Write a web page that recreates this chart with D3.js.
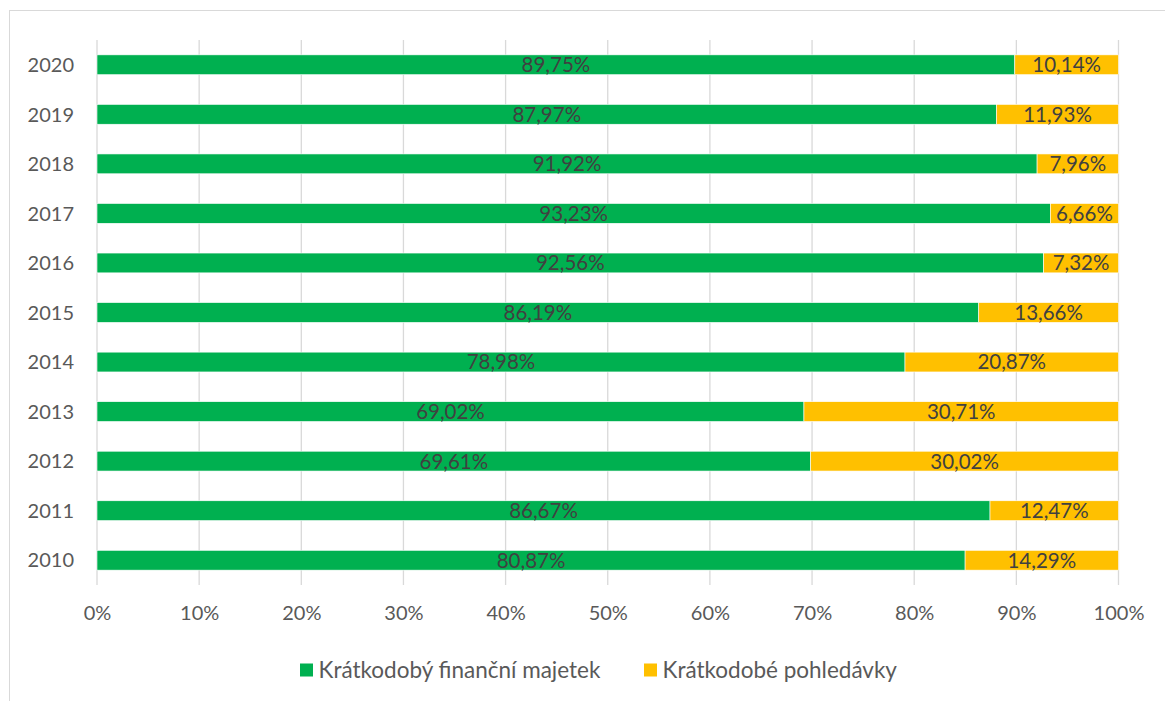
<!DOCTYPE html>
<html lang="cs">
<head>
  <meta charset="utf-8"/>
  <title>Krátkodobý finanční majetek a pohledávky</title>
  <script src="https://d3js.org/d3.v7.min.js"></script>
  <style>
    html, body { margin: 0; padding: 0; background: #fff; }
    svg { display: block; font-family: Lato, "Open Sans", sans-serif; }
  </style>
</head>
<body>
<svg id="chart" width="1165" height="701"></svg>
<script>
  // data
  const years = ["2020", "2019", "2018", "2017", "2016", "2015", "2014", "2013", "2012", "2011", "2010"];
  const financni = [89.75, 87.97, 91.92, 93.23, 92.56, 86.19, 78.98, 69.02, 69.61, 86.67, 80.87];
  const pohledavky = [10.14, 11.93, 7.96, 6.66, 7.32, 13.66, 20.87, 30.71, 30.02, 12.47, 14.29];
  const seriesNames = ["Krátkodobý finanční majetek", "Krátkodobé pohledávky"];
  const xTicks = [0, 0.1, 0.2, 0.3, 0.4, 0.5, 0.6, 0.7, 0.8, 0.9, 1];

  const colors = ["#00b050", "#ffc000"];
  const svg = d3.select("#chart");
  const fmt = v => v.toFixed(2).replace(".", ",") + "%";

  // chart frame
  svg.append("rect")
    .attr("x", 9.5).attr("y", 10.5)
    .attr("width", 1200).attr("height", 720)
    .attr("fill", "none").attr("stroke", "#d9d9d9");

  const rows = years.map((y, i) => ({ year: y, a: financni[i], b: pohledavky[i] }));
  const stacked = d3.stack().keys(["a", "b"]).offset(d3.stackOffsetExpand)(rows);

  const x = d3.scaleLinear().domain([0, 1]).range([97, 1118.5]);
  const y = d3.scaleBand().domain(years).range([40, 585]).paddingInner(0.6).paddingOuter(0.3);

  // gridlines
  svg.append("g").selectAll("line")
    .data(xTicks).join("line")
    .attr("x1", d => x(d)).attr("x2", d => x(d))
    .attr("y1", 40).attr("y2", 585)
    .attr("stroke", "#d9d9d9").attr("stroke-width", 1.3);

  // bars
  stacked.forEach((s, si) => {
    const g = svg.append("g");
    g.selectAll("rect").data(s).join("rect")
      .attr("x", d => x(d[0]))
      .attr("y", d => y(d.data.year))
      .attr("width", d => x(d[1]) - x(d[0]))
      .attr("height", y.bandwidth())
      .attr("fill", colors[si])
      .attr("stroke", "#fff").attr("stroke-width", 0.6);
    g.selectAll("text").data(s).join("text")
      .attr("x", d => (x(d[0]) + x(d[1])) / 2)
      .attr("y", d => y(d.data.year) + y.bandwidth() / 2)
      .attr("dy", "0.36em")
      .attr("text-anchor", "middle")
      .attr("font-size", 20.5)
      .attr("fill", "#404040")
      .text(d => fmt(si === 0 ? d.data.a : d.data.b));
  });

  // y axis labels
  svg.append("g").selectAll("text")
    .data(years).join("text")
    .attr("x", 74)
    .attr("y", d => y(d) + y.bandwidth() / 2)
    .attr("dy", "0.36em")
    .attr("text-anchor", "end")
    .attr("font-size", 20)
    .attr("fill", "#595959")
    .text(d => d);

  // x axis
  const xAxis = svg.append("g")
    .attr("transform", "translate(0,585)")
    .call(d3.axisBottom(x).tickValues(xTicks).tickFormat(d3.format(".0%")).tickSize(0).tickPadding(21));
  xAxis.select(".domain").remove();
  xAxis.selectAll("text")
    .attr("font-family", "Lato, 'Open Sans', sans-serif")
    .attr("font-size", 20)
    .attr("fill", "#595959");

  // legend
  const legendX = [300, 644];
  const legend = svg.append("g").selectAll("g")
    .data(seriesNames).join("g")
    .attr("transform", (d, i) => `translate(${legendX[i]},670)`);
  legend.append("rect")
    .attr("x", 0).attr("y", -6.5).attr("width", 13).attr("height", 13)
    .attr("fill", (d, i) => colors[i]);
  legend.append("text")
    .attr("x", 18.5).attr("dy", "0.36em")
    .attr("font-size", 22.5)
    .attr("fill", "#595959")
    .text(d => d);
</script>
</body>
</html>
